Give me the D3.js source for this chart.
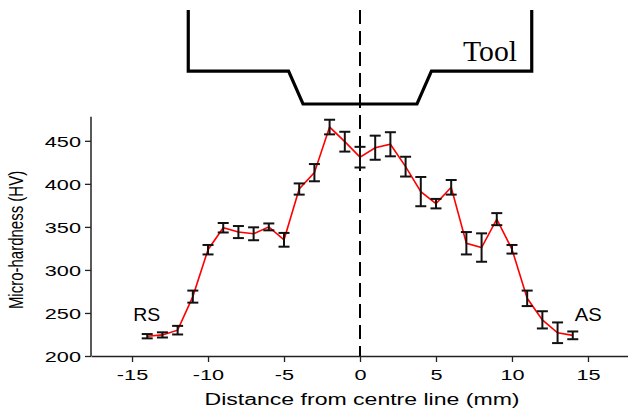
<!DOCTYPE html>
<html><head><meta charset="utf-8">
<script src="https://cdn.jsdelivr.net/npm/d3@7/dist/d3.min.js"></script>
<style>
html,body{margin:0;padding:0;background:#fff;}
text{font-family:"Liberation Sans",Arial,sans-serif;fill:#000;}
</style></head>
<body><svg id="c" width="628" height="409"></svg>
<script>
// ---- data ----
const positions = [-14,-13,-12,-11,-10,-9,-8,-7,-6,-5,-4,-3,-2,-1,0,1,2,3,4,5,6,7,8,9,10,11,12,13,14];
const hardness  = [223,224.5,230,269,323.5,349,344,342,350,335,394,413,466,449,431,442,446,420,391,377,396,331,326,359,324,267,242,227,224];
const errors    = [2.5,3,5,7,5.5,5.5,7,7.5,4,8,6.5,10,8.5,11.5,12,14,14,11.5,17,5.5,8.5,13,16.5,7,5,9,10,12,4.5];
const xMajorTicks = [-15,-10,-5,0,5,10,15];
const xMinorTicks = [-17.5,-12.5,-7.5,-2.5,2.5,7.5,12.5,17.5];
const yMajorTicks = [200,250,300,350,400,450];
const yMinorTicks = [225,275,325,375,425,475];
// tool profile (mm across centre line, relative depth 0 = top, 1 = pin tip)
const toolXmm   = [-11.3,-11.3,-4.7,-3.75,3.75,4.7,11.3,11.3];
const toolDepth = [0,0.65,0.65,1,1,0.65,0.65,0];
const xTitle = "Distance from centre line (mm)";
const yTitle = "Micro-hardness (HV)";

const svg = d3.select("#c");
const x = d3.scaleLinear().domain([-17.7,17.7]).range([91,629]);
const y = d3.scaleLinear().domain([200,480]).range([356,115]);
const yTool = d3.scaleLinear().domain([0,1]).range([10,104]);
const SX = 1.4; // horizontal stretch of text in the reference

// x axis
const gx = svg.append("g").attr("transform","translate(0,356)");
gx.call(d3.axisBottom(x).tickValues(xMinorTicks).tickSize(3).tickSizeOuter(0).tickFormat(""));
gx.call(d3.axisBottom(x).tickValues(xMajorTicks).tickSize(6).tickSizeOuter(0).tickFormat(d=>d<0?"-"+Math.abs(d):d));
gx.selectAll("path.domain").attr("stroke","#222").attr("stroke-width",1.5);
gx.selectAll(".tick line").attr("stroke","#222").attr("stroke-width",1.3);
gx.selectAll(".tick text").attr("y",0).attr("dy","0").attr("font-size",15.5)
  .attr("transform",`translate(0,24) scale(${SX},1)`).style("fill","#000");

// y axis
const gy = svg.append("g").attr("transform","translate(91,0)");
gy.call(d3.axisLeft(y).tickValues(yMinorTicks).tickSize(3).tickSizeOuter(0).tickFormat(""));
gy.call(d3.axisLeft(y).tickValues(yMajorTicks).tickSize(6).tickSizeOuter(0));
gy.selectAll("path.domain").attr("stroke","#222").attr("stroke-width",1.5)
  .attr("d",`M0,${y(200)}V${y(478)}`);
gy.selectAll(".tick line").attr("stroke","#222").attr("stroke-width",1.3);
gy.selectAll(".tick text").attr("x",0).attr("dy","0.36em").attr("font-size",15.5)
  .attr("transform",`translate(-10,0) scale(${SX},1)`).style("fill","#000");

// axis titles
svg.append("text").attr("x",x(0)+2).attr("y",405).attr("text-anchor","middle")
  .attr("font-size",16).attr("textLength",315).attr("lengthAdjust","spacingAndGlyphs").text(xTitle);
svg.append("text").attr("transform",`translate(23,240) scale(${SX},1) rotate(-90)`)
  .attr("text-anchor","middle").attr("font-size",15).text(yTitle);

// centre dashed line
svg.append("line").attr("x1",x(0)).attr("x2",x(0)).attr("y1",yTool(0)).attr("y2",y(200))
  .attr("stroke","#000").attr("stroke-width",2).attr("stroke-dasharray","14,7");

// tool outline
const toolLine = d3.line().x((d,i)=>x(toolXmm[i])).y((d,i)=>yTool(toolDepth[i]));
svg.append("path").attr("d",toolLine(toolXmm)).attr("fill","none").attr("stroke","#000")
  .attr("stroke-width",3.2).attr("stroke-linejoin","miter");
svg.append("text").attr("x",463).attr("y",61)
  .style("font-family","'Liberation Serif','Times New Roman',serif")
  .attr("font-size",30).attr("textLength",54).attr("lengthAdjust","spacingAndGlyphs").text("Tool");

// data line
const pts = positions.map((p,i)=>({p, v:hardness[i], e:errors[i]}));
svg.append("path").datum(pts)
  .attr("d",d3.line().x(d=>x(d.p)).y(d=>y(d.v)))
  .attr("fill","none").attr("stroke","#ff0000").attr("stroke-width",1.6);

// error bars
const eb = svg.append("g").attr("stroke","#111").attr("stroke-width",2);
const cap = 5.5;
eb.selectAll("g").data(pts).join("g").each(function(d){
  const g = d3.select(this), cx = x(d.p);
  g.append("line").attr("x1",cx).attr("x2",cx).attr("y1",y(d.v-d.e)).attr("y2",y(d.v+d.e));
  g.append("line").attr("x1",cx-cap).attr("x2",cx+cap).attr("y1",y(d.v-d.e)).attr("y2",y(d.v-d.e));
  g.append("line").attr("x1",cx-cap).attr("x2",cx+cap).attr("y1",y(d.v+d.e)).attr("y2",y(d.v+d.e));
});

// side labels
svg.append("text").attr("x",x(-14)-14).attr("y",321).attr("font-size",18)
  .attr("textLength",27).attr("lengthAdjust","spacingAndGlyphs").text("RS");
svg.append("text").attr("x",x(14)+2).attr("y",321).attr("font-size",18)
  .attr("textLength",27).attr("lengthAdjust","spacingAndGlyphs").text("AS");
</script></body></html>
